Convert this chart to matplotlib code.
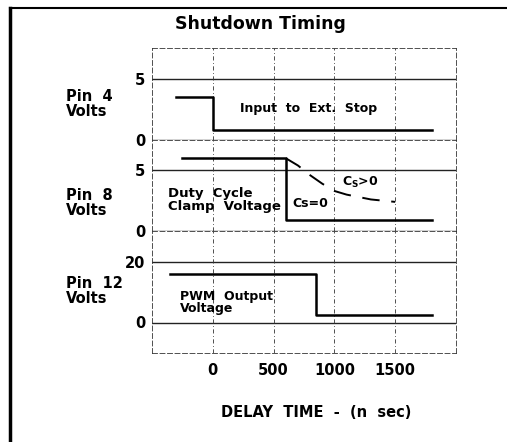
import matplotlib
matplotlib.use("Agg")
import matplotlib.pyplot as plt
from matplotlib.lines import Line2D

plt.rcParams['font.family'] = ['DejaVu Sans']
plt.rcParams['font.weight'] = 'bold'
plt.rcParams['axes.labelweight'] = 'bold'

# ---- data ----
x_ticks = [0, 500, 1000, 1500]
x_ticklabels = ["0", "500", "1000", "1500"]

pin4_x = [-300, 0, 0, 1800]
pin4_y = [3.5, 3.5, 0.8, 0.8]

pin8_x = [-250, 600, 600, 1800]
pin8_y = [6.0, 6.0, 0.9, 0.9]

pin8_cs_x = [600, 700, 800, 900, 1000, 1100, 1200, 1300, 1400, 1500]
pin8_cs_y = [6.0, 5.4, 4.6, 3.9, 3.3, 3.0, 2.8, 2.6, 2.5, 2.4]

pin12_x = [-350, 850, 850, 1800]
pin12_y = [16.0, 16.0, 2.5, 2.5]

panel_yticks = [[0, 5], [0, 5], [0, 20]]
panel_ylims = [(0, 7.5), (0, 7.5), (-10, 30)]
panel_ylabels = ["Pin  4\nVolts", "Pin  8\nVolts", "Pin  12\nVolts"]

W, H = 507, 442
fig = plt.figure(figsize=(W / 100, H / 100), dpi=100)

L, R = 152 / W, 456 / W
bounds = [(48, 140), (140, 231), (231, 353)]
axes = []
for i, (t, b) in enumerate(bounds):
    ax = fig.add_axes([L, 1 - b / H, R - L, (b - t) / H])
    ax.set_xlim(-500, 2000)
    ax.set_ylim(*panel_ylims[i])
    for s in ax.spines.values():
        s.set_linewidth(0.6)
        s.set_linestyle((0, (6, 3)))
        s.set_color('#333333')
    ax.set_yticks(panel_yticks[i])
    ax.set_yticklabels([str(v) for v in panel_yticks[i]], fontsize=10.5)
    ax.tick_params(axis='y', length=0, pad=5)
    for v in panel_yticks[i]:
        ax.axhline(v, color='#222222', lw=1.0, zorder=1)
    for xv in x_ticks:
        ax.axvline(xv, color='#333333', lw=0.6, ls=(0, (5, 3, 1, 3)), zorder=1)
    ax.set_xticks(x_ticks)
    if i < 2:
        ax.tick_params(axis='x', length=0, labelbottom=False)
    else:
        ax.set_xticklabels(x_ticklabels, fontsize=10.5)
        ax.tick_params(axis='x', length=0, pad=7)
    axes.append(ax)

ax1, ax2, ax3 = axes

ax1.plot(pin4_x, pin4_y, color='black', lw=1.8, zorder=3)
ax1.text(220, 2.6, "Input  to  Ext.  Stop", fontsize=9, va='center', ha='left')

ax2.plot(pin8_x, pin8_y, color='black', lw=1.8, zorder=3)
ax2.plot(pin8_cs_x, pin8_cs_y, color='black', lw=1.4, ls=(0, (9, 6)), zorder=3)
ax2.text(-370, 2.55, "Duty  Cycle\nClamp  Voltage", fontsize=9.5, va='center',
         ha='left', linespacing=0.95)
ax2.text(655, 2.25, "Cs=0", fontsize=9, va='center', ha='left')
ax2.text(1060, 4.0, "C$_\\mathbf{S}$>0", fontsize=9, va='center', ha='left')

ax3.plot(pin12_x, pin12_y, color='black', lw=1.8, zorder=3)
ax3.text(-270, 6.6, "PWM  Output\nVoltage", fontsize=9, va='center',
         ha='left', linespacing=0.95)

ax3.set_xlabel("DELAY  TIME  -  (n  sec)", fontsize=10.5)
ax3.xaxis.set_label_coords((316 - 152) / 304, (353 - 412) / 122, transform=ax3.transAxes)
ax3.xaxis.label.set_va('center')

# y labels (left)
for txt, yc in zip(panel_ylabels, [104, 203, 291]):
    fig.text(66 / W, 1 - yc / H, txt, fontsize=10.5, ha='left',
             va='center', linespacing=1.0)

fig.text(260 / W, 1 - 24 / H, "Shutdown Timing", fontsize=12.5, fontweight='bold',
         ha='center', va='center')

# outer frame (left + top)
fig.add_artist(Line2D([10 / W, 10 / W], [0, 1 - 8 / H], color='black', lw=2.5,
                      transform=fig.transFigure))
fig.add_artist(Line2D([10 / W, 1], [1 - 8 / H, 1 - 8 / H], color='black', lw=1.5,
                      transform=fig.transFigure))

fig.savefig("out.png", dpi=100)
